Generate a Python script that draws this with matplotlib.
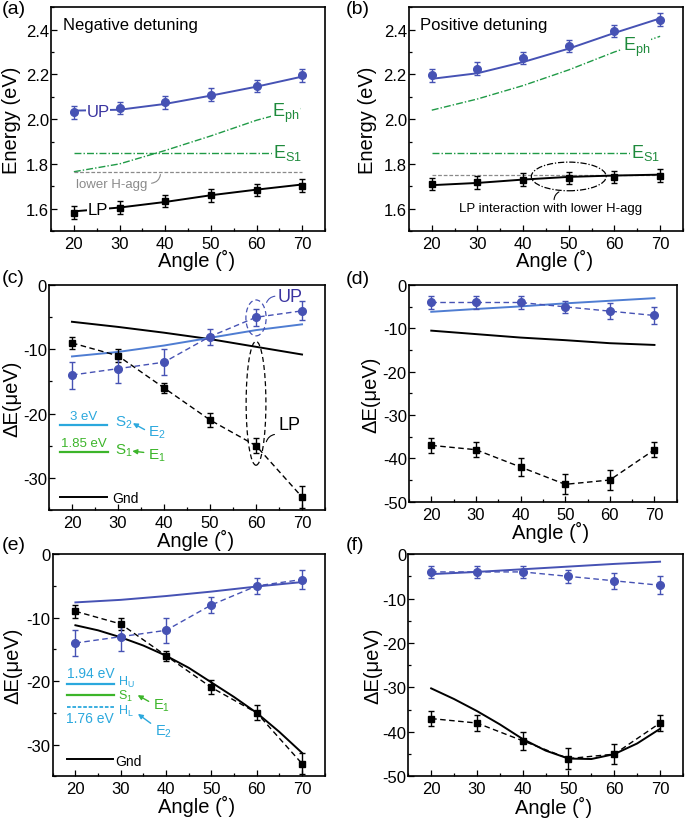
import matplotlib
matplotlib.use("Agg")
import matplotlib.pyplot as plt
from matplotlib.patches import Ellipse
from matplotlib.ticker import MultipleLocator

plt.rcParams["font.family"] = ["Liberation Sans", "DejaVu Sans"]
plt.rcParams["mathtext.fontset"] = "custom"
plt.rcParams["mathtext.rm"] = "Liberation Sans"
plt.rcParams["axes.unicode_minus"] = False

# ---- data ----
angles = [20, 30, 40, 50, 60, 70]
fine_angles = [20, 25, 30, 35, 40, 45, 50, 55, 60, 65, 70]

# (a) negative detuning, energies (eV)
neg_up = [2.03, 2.05, 2.075, 2.11, 2.148, 2.195]
neg_lp = [1.582, 1.605, 1.635, 1.66, 1.683, 1.703]
neg_up_fit = [2.038, 2.042, 2.068, 2.105, 2.145, 2.19]
neg_lp_fit = [1.588, 1.605, 1.63, 1.66, 1.685, 1.708]
neg_eph = [1.765, 1.80, 1.86, 1.925, 1.995, 2.05]
neg_hagg = 1.765

# (b) positive detuning, energies (eV)
pos_up = [2.196, 2.225, 2.274, 2.327, 2.394, 2.445]
pos_lp = [1.71, 1.718, 1.73, 1.737, 1.742, 1.748]
pos_up_fit = [2.18, 2.205, 2.255, 2.315, 2.385, 2.45]
pos_lp_fit = [1.705, 1.715, 1.73, 1.742, 1.748, 1.752]
pos_eph = [2.04, 2.09, 2.15, 2.22, 2.30, 2.37]
pos_hagg = 1.75

es1 = 1.85
energy_err = [0.028, 0.028, 0.028, 0.028, 0.028, 0.028]

# (c)/(e) negative detuning shifts (ueV)
neg_up_shift = [-14, -13, -12, -8, -5, -4]
neg_up_shift_err = [2.1, 2.2, 2.0, 1.25, 1.3, 1.5]
neg_lp_shift = [-9, -11, -16, -21, -25, -33]
neg_lp_shift_err = [1.0, 1.0, 0.8, 1.1, 1.2, 1.7]
neg_up_model_c = [-11.1, -10.4, -9.4, -8.2, -7.0, -6.1]
neg_gnd_model_c = [-5.7, -6.5, -7.4, -8.4, -9.6, -10.8]
neg_up_model_e = [-7.6, -7.2, -6.6, -5.9, -5.1, -4.4]
neg_lp_model_e = [-11.2, -12.0, -13.1, -14.4, -16.0, -17.9, -20.2, -22.5, -25.0, -28.0, -31.3]

# (d)/(f) positive detuning shifts (ueV)
pos_up_shift = [-4, -4, -4, -5, -6, -7]
pos_up_shift_err = [1.4, 1.4, 1.4, 1.4, 1.8, 2.0]
pos_lp_shift = [-37, -38, -42, -46, -45, -38]
pos_lp_shift_err = [1.7, 1.8, 2.0, 2.3, 2.2, 1.8]
pos_up_model_d = [-6.15, -5.5, -4.9, -4.2, -3.6, -3.0]
pos_gnd_model_d = [-10.5, -11.3, -12.1, -12.7, -13.4, -13.8]
pos_up_model_f = [-4.5, -4.0, -3.4, -2.8, -2.2, -1.7]
pos_lp_model_f = [-30.2, -32.6, -35.3, -38.3, -41.6, -44.2, -46.0, -46.1, -45.0, -42.6, -39.3]

BLUE = "#4652b4"
BLUE_TXT = "#3a34a0"
BLUE_LINE = "#4f7dd2"
GREEN = "#1f9a46"
GREEN_TXT = "#1e8a3c"
LGREEN = "#3cb52a"
CYAN = "#2ba8dd"
GRAY = "#8a8a8a"
DASH = (0, (4, 2.5))
DASHDOT = (0, (5, 1.5, 1, 1.5))


def style_axes(ax, ylim, ymajor, yminor, ylabel, ylab_x, xlab_y):
    ax.set_xlim(15, 75)
    ax.set_ylim(*ylim)
    ax.xaxis.set_major_locator(MultipleLocator(10))
    ax.xaxis.set_minor_locator(MultipleLocator(5))
    ax.yaxis.set_major_locator(MultipleLocator(ymajor))
    ax.yaxis.set_minor_locator(MultipleLocator(yminor))
    ax.tick_params(which="both", direction="in", labelsize=12, width=0.9)
    ax.tick_params(which="major", length=4)
    ax.tick_params(which="minor", length=2.5)
    ax.tick_params(axis="y", which="both", pad=1.5)
    for s in ax.spines.values():
        s.set_linewidth(1.2)
    ax.set_xlabel("Angle (˚)", fontsize=14.5)
    ax.set_ylabel(ylabel, fontsize=14.5)
    ax.yaxis.set_label_coords(ylab_x, 0.5)
    ax.xaxis.set_label_coords(0.53, xlab_y)


def points(ax, y, err, color, marker, ms, ls="none"):
    ax.errorbar(angles, y, yerr=err, color=color, marker=marker, ms=ms, ls=ls,
                lw=1, capsize=2.5, capthick=1, elinewidth=1, zorder=3)


def label(ax, x, y, s, color, size, ha="left"):
    ax.text(x, y, s, color=color, fontsize=size, ha=ha, va="center", zorder=5,
            bbox=dict(facecolor="white", edgecolor="none", pad=0.6))


def arrow(ax, head, tail, color):
    ax.annotate("", xy=head, xytext=tail,
                arrowprops=dict(arrowstyle="-|>", color=color, lw=1, mutation_scale=7))


fig = plt.figure(figsize=(6.85, 8.2), dpi=100)
ax_a = fig.add_axes([0.0745, 0.717, 0.400, 0.273])
ax_b = fig.add_axes([0.597, 0.717, 0.400, 0.273])
ax_c = fig.add_axes([0.0715, 0.377, 0.403, 0.274])
ax_d = fig.add_axes([0.597, 0.387, 0.391, 0.264])
ax_e = fig.add_axes([0.077, 0.052, 0.397, 0.271])
ax_f = fig.add_axes([0.596, 0.052, 0.401, 0.271])

# ---- (a) ----
ax = ax_a
ax.plot(angles, neg_eph, color=GREEN, lw=1, ls=DASHDOT)
ax.plot([20, 70], [es1, es1], color=GREEN, lw=1, ls=DASHDOT)
ax.plot([20, 70], [neg_hagg, neg_hagg], color=GRAY, lw=0.9, ls=(0, (3, 1.5)))
ax.plot(angles, neg_up_fit, color=BLUE, lw=1.4)
ax.plot(angles, neg_lp_fit, color="black", lw=1.4)
points(ax, neg_up, energy_err, BLUE, "o", 5.5)
points(ax, neg_lp, energy_err, "black", "s", 4.5)
label(ax, 25.3, 2.035, "UP", BLUE_TXT, 12, ha="center")
label(ax, 25.3, 1.597, "LP", "black", 12, ha="center")
label(ax, 63.3, 2.03, r"$\mathregular{E_{ph}}$", GREEN_TXT, 13)
label(ax, 63.6, 1.853, r"$\mathregular{E_{S1}}$", GREEN_TXT, 13)
ax.text(20.4, 1.712, "lower H-agg", color=GRAY, fontsize=9.5, va="center")
ax.annotate("", xy=(39, neg_hagg), xytext=(36.4, 1.713),
            arrowprops=dict(arrowstyle="-", color=GRAY, lw=0.8,
                            connectionstyle="arc3,rad=0.5"))
ax.text(0.044, 0.924, "Negative detuning", transform=ax.transAxes,
        fontsize=12, va="center")
style_axes(ax, (1.5, 2.5), 0.2, 0.1, "Energy (eV)", -0.109, -0.082)

# ---- (b) ----
ax = ax_b
ax.plot(angles, pos_eph, color=GREEN, lw=1, ls=DASHDOT)
ax.plot([20, 70], [es1, es1], color=GREEN, lw=1, ls=DASHDOT)
ax.plot([20, 70], [pos_hagg, pos_hagg], color=GRAY, lw=0.9, ls=(0, (3, 1.5)))
ax.plot(angles, pos_up_fit, color=BLUE, lw=1.4)
ax.plot(angles, pos_lp_fit, color="black", lw=1.4)
points(ax, pos_up, energy_err, BLUE, "o", 5.5)
points(ax, pos_lp, energy_err, "black", "s", 4.5)
label(ax, 61.8, 2.325, r"$\mathregular{E_{ph}}$", GREEN_TXT, 13)
label(ax, 63.6, 1.853, r"$\mathregular{E_{S1}}$", GREEN_TXT, 13)
ax.add_patch(Ellipse((50, 1.744), 16.4, 0.128, fill=False, lw=0.9,
                     ls=DASHDOT, edgecolor="black", zorder=4))
ax.annotate("", xy=(48.4, 1.68), xytext=(46.8, 1.628),
            arrowprops=dict(arrowstyle="-", color="black", lw=0.8,
                            connectionstyle="arc3,rad=-0.4"))
ax.text(46, 1.605, "LP interaction with lower H-agg", fontsize=9.5,
        ha="center", va="center")
ax.text(0.04, 0.924, "Positive detuning", transform=ax.transAxes,
        fontsize=12, va="center")
style_axes(ax, (1.5, 2.5), 0.2, 0.1, "Energy (eV)", -0.117, -0.082)

# ---- (c) ----
ax = ax_c
ax.plot(angles, neg_gnd_model_c, color="black", lw=1.4)
ax.plot(angles, neg_up_model_c, color=BLUE_LINE, lw=1.4)
points(ax, neg_lp_shift, neg_lp_shift_err, "black", "s", 4.5, DASH)
points(ax, neg_up_shift, neg_up_shift_err, BLUE, "o", 5.5, DASH)
ax.add_patch(Ellipse((60, -5.1), 4.4, 5.6, fill=False, lw=0.9, ls=DASH,
                     edgecolor=BLUE, zorder=4))
ax.add_patch(Ellipse((60, -18.4), 4.3, 19.3, fill=False, lw=0.9, ls=DASH,
                     edgecolor="black", zorder=4))
ax.annotate("", xy=(62.1, -3.1), xytext=(64.7, -1.7),
            arrowprops=dict(arrowstyle="-", color=BLUE, lw=0.8,
                            connectionstyle="arc3,rad=0.4"))
ax.annotate("", xy=(62.1, -24.8), xytext=(64.6, -23.2),
            arrowprops=dict(arrowstyle="-", color="black", lw=0.8,
                            connectionstyle="arc3,rad=0.4"))
ax.text(64.8, -1.7, "UP", color=BLUE_TXT, fontsize=13, va="center")
ax.text(64.8, -21.7, "LP", color="black", fontsize=13, va="center")
# energy level sketch
ax.plot([17.5, 27.6], [-21.8, -21.8], color=CYAN, lw=1.6)
ax.text(22.5, -21.3, "3 eV", color=CYAN, fontsize=9.5, ha="center", va="bottom")
ax.text(29.3, -21.3, r"$\mathregular{S_2}$", color=CYAN, fontsize=11, va="center")
ax.text(36.6, -22.8, r"$\mathregular{E_2}$", color=CYAN, fontsize=11, va="center")
arrow(ax, (32.7, -21.3), (36.3, -22.7), CYAN)
ax.plot([17.5, 27.8], [-26.0, -26.0], color=LGREEN, lw=1.6)
ax.text(22.5, -25.5, "1.85 eV", color=LGREEN, fontsize=9.5, ha="center", va="bottom")
ax.text(29.3, -25.7, r"$\mathregular{S_1}$", color=LGREEN, fontsize=11, va="center")
ax.text(36.6, -26.5, r"$\mathregular{E_1}$", color=LGREEN, fontsize=11, va="center")
arrow(ax, (32.5, -25.8), (36.2, -26.1), LGREEN)
ax.plot([17.5, 27.6], [-33.0, -33.0], color="black", lw=1.4)
ax.text(28.7, -33.2, "Gnd", fontsize=10, va="center")
style_axes(ax, (-35, 0), 10, 5, "ΔE(μeV)", -0.101, -0.085)

# ---- (d) ----
ax = ax_d
ax.plot(angles, pos_gnd_model_d, color="black", lw=1.4)
ax.plot(angles, pos_up_model_d, color=BLUE_LINE, lw=1.4)
points(ax, pos_lp_shift, pos_lp_shift_err, "black", "s", 4.5, DASH)
points(ax, pos_up_shift, pos_up_shift_err, BLUE, "o", 5.5, DASH)
style_axes(ax, (-50, 0), 10, 5, "ΔE(μeV)", -0.105, -0.088)

# ---- (e) ----
ax = ax_e
ax.plot(fine_angles, neg_lp_model_e, color="black", lw=1.4)
ax.plot(angles, neg_up_model_e, color=BLUE, lw=1.4)
points(ax, neg_lp_shift, neg_lp_shift_err, "black", "s", 4.5, DASH)
points(ax, neg_up_shift, neg_up_shift_err, BLUE, "o", 5.5, DASH)
ax.plot([18.2, 28.5], [-20.4, -20.4], color=CYAN, lw=1.6)
ax.text(23.3, -19.9, "1.94 eV", color=CYAN, fontsize=10, ha="center", va="bottom")
ax.text(29.4, -20.0, r"$\mathregular{H_U}$", color=CYAN, fontsize=9, va="center")
ax.plot([18.2, 28.5], [-22.2, -22.2], color=LGREEN, lw=1.6)
ax.text(29.4, -22.3, r"$\mathregular{S_1}$", color=LGREEN, fontsize=9, va="center")
ax.text(37.1, -23.7, r"$\mathregular{E_1}$", color=LGREEN, fontsize=10.5, va="center")
arrow(ax, (33.2, -22.0), (36.7, -23.4), LGREEN)
ax.plot([18.2, 28.5], [-24.1, -24.1], color=CYAN, lw=1.3, ls=(0, (2, 1)))
ax.text(29.4, -24.6, r"$\mathregular{H_L}$", color=CYAN, fontsize=9, va="center")
ax.text(23.3, -24.7, "1.76 eV", color=CYAN, fontsize=10, ha="center", va="top")
ax.text(37.5, -27.9, r"$\mathregular{E_2}$", color=CYAN, fontsize=10.5, va="center")
arrow(ax, (33.3, -24.9), (37.1, -26.9), CYAN)
ax.plot([18.2, 28.2], [-32.3, -32.3], color="black", lw=1.4)
ax.text(28.8, -32.6, "Gnd", fontsize=10, va="center")
style_axes(ax, (-35, 0), 10, 5, "ΔE(μeV)", -0.11, -0.085)

# ---- (f) ----
ax = ax_f
ax.plot(fine_angles, pos_lp_model_f, color="black", lw=1.4)
ax.plot(angles, pos_up_model_f, color=BLUE, lw=1.4)
points(ax, pos_lp_shift, pos_lp_shift_err, "black", "s", 4.5, DASH)
points(ax, pos_up_shift, pos_up_shift_err, BLUE, "o", 5.5, DASH)
style_axes(ax, (-50, 0), 10, 5, "ΔE(μeV)", -0.095, -0.09)

for x, y, s in [(0.003, 0.999, "(a)"), (0.505, 0.999, "(b)"),
                (0.003, 0.671, "(c)"), (0.505, 0.669, "(d)"),
                (0.003, 0.345, "(e)"), (0.505, 0.345, "(f)")]:
    fig.text(x, y, s, fontsize=14, va="top", ha="left")

fig.savefig("out.png", dpi=100)
